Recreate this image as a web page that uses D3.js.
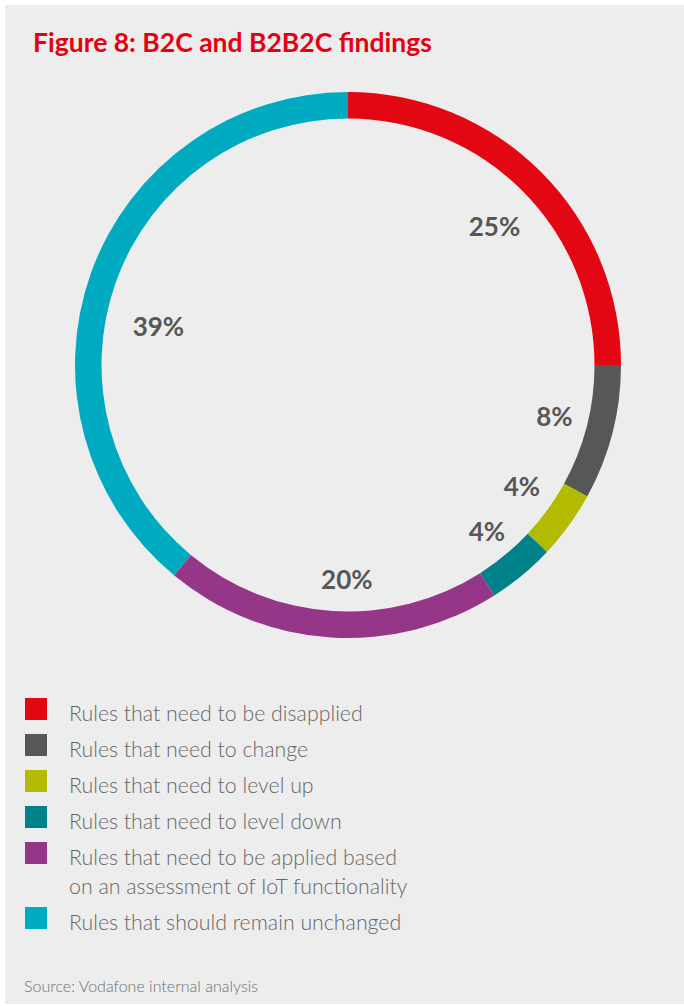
<!DOCTYPE html>
<html>
<head>
<meta charset="utf-8">
<script src="https://cdn.jsdelivr.net/npm/d3@7"></script>
<style>
  html, body { margin: 0; padding: 0; background: #ffffff; }
  svg { display: block; }
</style>
</head>
<body>
<script>
// Figure data
const categories = [
  "Rules that need to be disapplied",
  "Rules that need to change",
  "Rules that need to level up",
  "Rules that need to level down",
  "Rules that need to be applied based|on an assessment of IoT functionality",
  "Rules that should remain unchanged"
];
const shares = [25, 8, 4, 4, 20, 39];
const valueLabels = ["25%", "8%", "4%", "4%", "20%", "39%"];
const colors = ["#e30613", "#575756", "#b2bb00", "#00828a", "#953688", "#00abc2"];

const W = 684, H = 1006;
const svg = d3.select("body").append("svg").attr("width", W).attr("height", H);

// panel background
svg.append("rect").attr("x", 5).attr("y", 5).attr("width", W - 5).attr("height", H - 7)
  .attr("fill", "#ededed");

// title
svg.append("text").attr("x", 33).attr("y", 52)
  .attr("font-family", "Lato, 'Open Sans', sans-serif").attr("font-weight", 700)
  .attr("font-size", 26.5).attr("fill", "#e60012")
  .text("Figure 8: B2C and B2B2C findings");

// donut ring
const cx = 348, cy = 365, rOuter = 273, rInner = 246.5;
const pie = d3.pie().sort(null).value(d => d);
const arcs = pie(shares);
const arc = d3.arc().innerRadius(rInner).outerRadius(rOuter);
const g = svg.append("g").attr("transform", `translate(${cx},${cy})`);
g.selectAll("path.slice").data(arcs).join("path")
  .attr("class", "slice")
  .attr("d", arc)
  .attr("fill", (d, i) => colors[i]);

// value labels inside the ring, with small hand nudges for readability
const labelArc = d3.arc().innerRadius(210).outerRadius(210);
const nudges = [[-2, 10], [3, -1], [4, -2], [5, 5], [12, 5], [8, 33]];
g.selectAll("text.val").data(arcs).join("text")
  .attr("class", "val")
  .attr("transform", (d, i) => {
    const [x, y] = labelArc.centroid(d);
    return `translate(${x + nudges[i][0]},${y + nudges[i][1]})`;
  })
  .attr("text-anchor", "middle").attr("dy", "0.36em")
  .attr("font-family", "Lato, 'Open Sans', sans-serif").attr("font-weight", 700)
  .attr("font-size", 26).attr("fill", "#575756")
  .text((d, i) => valueLabels[i]);

// legend
const legend = svg.append("g");
let y = 721;
categories.forEach((c, i) => {
  const lines = c.split("|");
  legend.append("rect").attr("x", 25).attr("y", y - 23).attr("width", 22).attr("height", 22)
    .attr("fill", colors[i]);
  const t = legend.append("text").attr("x", 69).attr("y", y)
    .attr("font-family", "Lato, 'Open Sans', sans-serif").attr("font-weight", 300)
    .attr("font-size", 21.3).attr("fill", "#666666");
  lines.forEach((l, j) => {
    t.append("tspan").attr("x", 69).attr("y", y + j * 29).text(l);
  });
  y += 36 + (lines.length - 1) * 29;
});

// source note
svg.append("text").attr("x", 24).attr("y", 992)
  .attr("font-family", "Lato, 'Open Sans', sans-serif").attr("font-weight", 300)
  .attr("font-size", 16).attr("fill", "#6f6f6f")
  .text("Source: Vodafone internal analysis");
</script>
</body>
</html>
